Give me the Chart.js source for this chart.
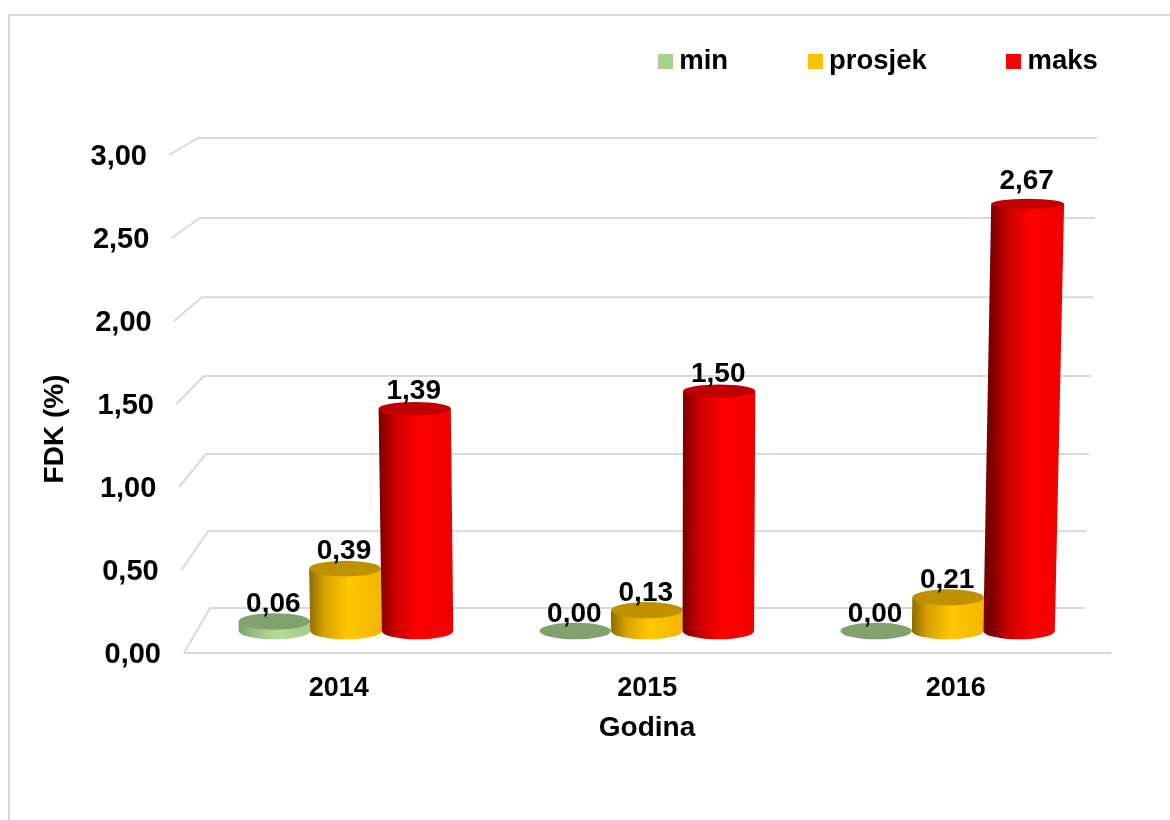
<!DOCTYPE html>
<html>
<head>
<meta charset="utf-8">
<title>FDK (%)</title>
<script src="https://cdn.jsdelivr.net/npm/chart.js@4"></script>
<style>
    html, body { margin: 0; padding: 0; background: #fff; }
    #wrap { position: relative; width: 1170px; height: 820px; }
</style>
</head>
<body>
<div id="wrap"><canvas id="fdkChart"></canvas></div>
<script>
const years = ['2014', '2015', '2016'];
const seriesNames = ['min', 'prosjek', 'maks'];
const minValues = [0.06, 0.00, 0.00];
const avgValues = [0.39, 0.13, 0.21];
const maxValues = [1.39, 1.50, 2.67];
const yTicks = [0, 0.5, 1, 1.5, 2, 2.5, 3];

const font = '"Liberation Sans", Arial, sans-serif';
const gridColor = '#d9d9d9';

// side, bright, cap, dark edge for each cylinder series
const shades = [
    { legend: '#a9d18e', dark: '#7f9f6a', mid: '#9cc082', bright: '#b3dd97', end: '#a3cc88', cap: '#81a26e' },
    { legend: '#ffc000', dark: '#8f6c00', mid: '#d9a300', bright: '#ffc800', end: '#f2b600', cap: '#bf9000' },
    { legend: '#ff0000', dark: '#7a0000', mid: '#c80000', bright: '#ff0000', end: '#ee0000', cap: '#c00000' }
];

const comma = v => v.toFixed(2).replace('.', ',');

// the picture is a 3D chart: the scale is the middle of the box,
// the front edge and the back wall are shifted from it
const frontY = (px, v) => px + 22 - 6 * v;
const backY = (px, v) => px - 23 + 7.33 * v - 1.33 * v * v;

function swatch(color) {
    const c = document.createElement('canvas');
    c.width = 15;
    c.height = 15;
    const g = c.getContext('2d');
    g.fillStyle = color;
    g.fillRect(0, 0, 15, 15);
    return c;
}

const box3d = {
    id: 'box3d',
    afterLayout(chart) {
        // the legend sits above the plot but takes no room from it
        const lg = chart.legend;
        lg.left = 578.5;
        lg.right = 1400;
        lg.top = -39;
        lg.bottom = 120;
    },
    beforeDatasetsDraw(chart) {
        const { ctx, scales: { y } } = chart;
        ctx.save();
        // frame
        ctx.strokeStyle = gridColor;
        ctx.lineWidth = 2;
        ctx.beginPath();
        ctx.moveTo(9, 820);
        ctx.lineTo(9, 15);
        ctx.lineTo(1170, 15);
        ctx.stroke();
        // gridlines
        y.ticks.forEach(t => {
            const v = t.value;
            const px = y.getPixelForValue(v);
            ctx.beginPath();
            ctx.moveTo(184 - 5 * v, frontY(px, v));
            ctx.lineTo(210 - 4 * v, backY(px, v));
            ctx.lineTo(1085 + 4 * v, backY(px, v));
            ctx.stroke();
        });
        // floor
        ctx.beginPath();
        ctx.moveTo(184, frontY(y.getPixelForValue(0), 0));
        ctx.lineTo(1111, frontY(y.getPixelForValue(0), 0));
        ctx.stroke();
        ctx.restore();
    },
    afterDatasetsDraw(chart) {
        const { ctx, scales: { x, y } } = chart;
        const tops = [];
        ctx.save();
        years.forEach((yr, i) => {
            chart.data.datasets.forEach((ds, d) => {
                const bar = chart.getDatasetMeta(d).data[i];
                const s = shades[d];
                const h = bar.base - bar.y;
                const rx = bar.width / 2;
                const topRx = rx * (1 + 0.02 * h / 427);
                const topX = bar.x + 0.000054 * (bar.x - 648) * h;
                const ryBase = 8.3;
                const ryTop = 8.3 - 3.3 * h / 427;
                if (h > 0) {
                    const grad = ctx.createLinearGradient(topX - topRx, 0, topX + topRx, 0);
                    grad.addColorStop(0, s.dark);
                    grad.addColorStop(0.22, s.mid);
                    grad.addColorStop(0.55, s.bright);
                    grad.addColorStop(1, s.end);
                    ctx.fillStyle = grad;
                    ctx.beginPath();
                    ctx.moveTo(topX - topRx, bar.y);
                    ctx.lineTo(bar.x - rx, bar.base);
                    ctx.ellipse(bar.x, bar.base, rx, ryBase, 0, Math.PI, 0, true);
                    ctx.lineTo(topX + topRx, bar.y);
                    ctx.closePath();
                    ctx.fill();
                }
                ctx.fillStyle = s.cap;
                ctx.beginPath();
                ctx.ellipse(topX, bar.y, topRx, ryTop, 0, 0, Math.PI * 2);
                ctx.fill();
                tops.push({ x: topX - 1, y: bar.y - (h > 300 ? 23 : 17), text: comma(ds.data[i]) });
            });
        });
        // value labels, tick labels and titles
        ctx.fillStyle = '#000';
        ctx.textAlign = 'center';
        ctx.textBaseline = 'middle';
        ctx.font = 'bold 28px ' + font;
        tops.forEach(t => ctx.fillText(t.text, t.x, t.y));
        ctx.font = 'bold 27px ' + font;
        years.forEach((yr, i) => {
            const px = x.getPixelForTick(i);
            ctx.fillText(yr, px + (px - 647) * 0.0256 + 0.5, 689);
        });
        ctx.font = 'bold 28px ' + font;
        ctx.fillText(x.options.title.text, 647, 728);
        ctx.textAlign = 'right';
        ctx.font = 'bold 29px ' + font;
        y.ticks.forEach(t => {
            ctx.fillText(t.label, 161 - 4.67 * t.value, frontY(y.getPixelForValue(t.value), t.value) + 2);
        });
        ctx.font = 'bold 28px ' + font;
        ctx.translate(55, 429);
        ctx.rotate(-Math.PI / 2);
        ctx.textAlign = 'center';
        ctx.fillText(y.options.title.text, 0, 0);
        ctx.restore();
    }
};

new Chart(document.getElementById('fdkChart'), {
    type: 'bar',
    data: {
        labels: years,
        datasets: [
            { label: seriesNames[0], data: minValues },
            { label: seriesNames[1], data: avgValues },
            { label: seriesNames[2], data: maxValues }
        ].map(ds => Object.assign(ds, {
            backgroundColor: 'transparent',
            categoryPercentage: 0.713,
            barPercentage: 1
        }))
    },
    options: {
        responsive: true,
        maintainAspectRatio: false,
        animation: false,
        layout: { padding: { left: 195.6, right: 72, top: 150, bottom: 189 } },
        plugins: {
            tooltip: { enabled: false },
            legend: {
                position: 'top',
                align: 'start',
                maxHeight: 1,
                labels: {
                    font: { family: font, size: 27.5, weight: 'bold' },
                    color: '#000',
                    padding: 87,
                    boxWidth: 0.01,
                    usePointStyle: true,
                    generateLabels: chart => chart.data.datasets.map((ds, i) => ({
                        text: ds.label,
                        pointStyle: swatch(shades[i].legend),
                        fontColor: '#000',
                        datasetIndex: i
                    }))
                }
            }
        },
        scales: {
            x: {
                display: false,
                title: { text: 'Godina' }
            },
            y: {
                display: false,
                min: 0,
                max: 3,
                title: { text: 'FDK (%)' },
                afterBuildTicks: scale => {
                    scale.ticks = yTicks.map(value => ({ value }));
                },
                ticks: { callback: value => comma(value) }
            }
        }
    },
    plugins: [box3d]
});
</script>
</body>
</html>
